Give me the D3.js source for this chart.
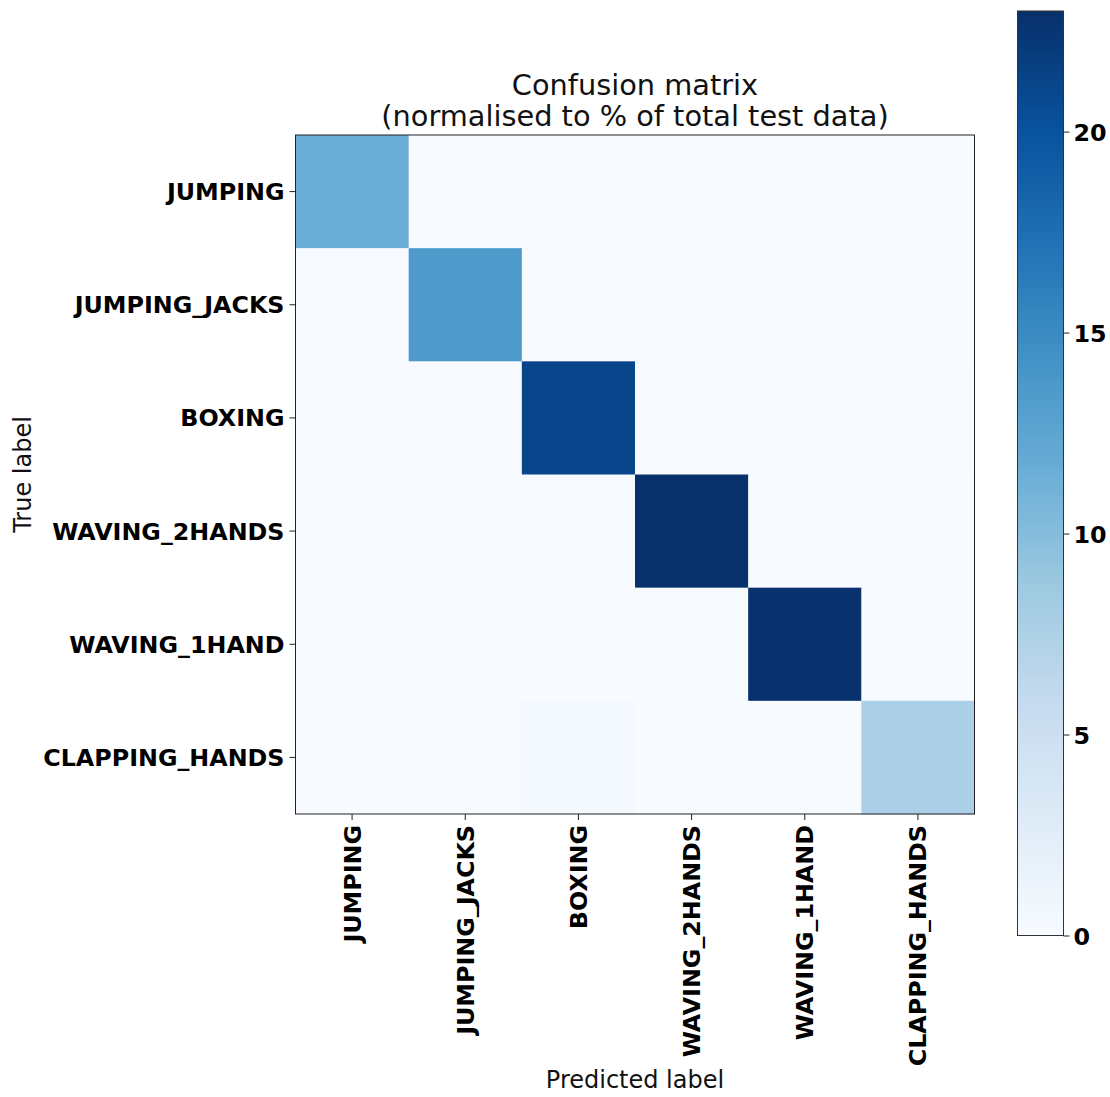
<!DOCTYPE html>
<html>
<head>
<meta charset="utf-8">
<title>Confusion matrix</title>
<script src="https://cdn.jsdelivr.net/npm/d3@7"></script>
<style>
  body { margin: 0; background: white; }
  text { font-family: "DejaVu Sans", sans-serif; }
  .tick-label { font-weight: bold; font-size: 23.8px; fill: black; }
</style>
</head>
<body>
<div id="chart"></div>
<script>
// class names, same order on both axes
var labels = ["JUMPING", "JUMPING_JACKS", "BOXING", "WAVING_2HANDS", "WAVING_1HAND", "CLAPPING_HANDS"];

// % of total test data, one row per true label
var row0 = [11.6, 0, 0, 0, 0, 0];
var row1 = [0, 13.5, 0, 0, 0, 0];
var row2 = [0, 0, 21.2, 0, 0, 0.15];
var row3 = [0, 0, 0, 23.0, 0, 0];
var row4 = [0, 0, 0, 0, 22.9, 0];
var row5 = [0, 0, 0.35, 0, 0, 7.7];
var matrix = [row0, row1, row2, row3, row4, row5];

var cbTicks = [0, 5, 10, 15, 20];

// dimensions
var W = 1110, H = 1097;
var plot = { left: 295.5, top: 135, size: 679 };
var cbar = { left: 1017.5, top: 11, width: 46, bottom: 935.5 };

window.onload = function() {

    var svg = d3.select("#chart").append("svg")
        .attr("width", W)
        .attr("height", H);

    var vmax = d3.max(matrix, function(r) { return d3.max(r); });

    // matplotlib Blues = linear ramp through the 9 colorbrewer colors
    var blues = d3.schemeBlues[9];
    var color = d3.scaleLinear()
        .domain(blues.map(function(c, i) { return i / 8 * vmax; }))
        .range(blues)
        .clamp(true);

    var x = d3.scaleBand().domain(labels).range([plot.left, plot.left + plot.size]);
    var y = d3.scaleBand().domain(labels).range([plot.top, plot.top + plot.size]);

    // cells
    var cells = [];
    matrix.forEach(function(r, i) {
        r.forEach(function(v, j) {
            cells.push({ row: labels[i], col: labels[j], value: v });
        });
    });

    svg.append("g")
        .selectAll("rect")
        .data(cells).enter().append("rect")
        .attr("x", function(d) { return x(d.col); })
        .attr("y", function(d) { return y(d.row); })
        .attr("width", x.bandwidth() + 0.5)
        .attr("height", y.bandwidth() + 0.5)
        .style("fill", function(d) { return color(d.value); });

    // frame
    svg.append("rect")
        .attr("x", plot.left)
        .attr("y", plot.top)
        .attr("width", plot.size)
        .attr("height", plot.size)
        .style("fill", "none")
        .style("stroke", "#222")
        .style("stroke-width", 1);

    // y axis
    var yAxis = svg.append("g")
        .attr("transform", "translate(" + plot.left + ",0)")
        .call(d3.axisLeft(y).tickSize(6).tickPadding(5));
    yAxis.select(".domain").remove();
    yAxis.selectAll("line").style("stroke", "#222");
    yAxis.selectAll("text")
        .attr("class", "tick-label")
        .style("font-family", "DejaVu Sans")
        .attr("dy", "0.36em");

    // x axis, rotated labels
    var xAxis = svg.append("g")
        .attr("transform", "translate(0," + (plot.top + plot.size) + ")")
        .call(d3.axisBottom(x).tickSize(6).tickPadding(5));
    xAxis.select(".domain").remove();
    xAxis.selectAll("line").style("stroke", "#222");
    xAxis.selectAll("text")
        .attr("class", "tick-label")
        .style("font-family", "DejaVu Sans")
        .attr("text-anchor", "end")
        .attr("transform", "rotate(-90)")
        .attr("x", -11)
        .attr("y", 0)
        .attr("dy", "0.36em");

    // axis titles
    svg.append("text")
        .attr("x", plot.left + plot.size / 2)
        .attr("y", 1088)
        .attr("text-anchor", "middle")
        .style("font-size", "24px")
        .style("fill", "#111")
        .text("Predicted label");

    svg.append("text")
        .attr("transform", "translate(31," + (plot.top + plot.size / 2) + ") rotate(-90)")
        .attr("text-anchor", "middle")
        .style("font-size", "24px")
        .style("fill", "#111")
        .text("True label");

    // title, two lines
    var title = svg.append("text")
        .attr("text-anchor", "middle")
        .style("font-size", "28.8px")
        .style("fill", "#111");
    title.append("tspan")
        .attr("x", plot.left + plot.size / 2)
        .attr("y", 95)
        .text("Confusion matrix");
    title.append("tspan")
        .attr("x", plot.left + plot.size / 2)
        .attr("y", 126)
        .text("(normalised to % of total test data)");

    // colorbar
    var defs = svg.append("defs");
    var grad = defs.append("linearGradient")
        .attr("id", "cb")
        .attr("x1", 0).attr("y1", 1)
        .attr("x2", 0).attr("y2", 0);
    grad.selectAll("stop")
        .data(blues).enter().append("stop")
        .attr("offset", function(d, i) { return (i / 8 * 100) + "%"; })
        .attr("stop-color", function(d) { return d; });

    var cy = d3.scaleLinear().domain([0, vmax]).range([cbar.bottom, cbar.top]);

    svg.append("rect")
        .attr("x", cbar.left)
        .attr("y", cbar.top)
        .attr("width", cbar.width)
        .attr("height", cbar.bottom - cbar.top)
        .style("fill", "url(#cb)")
        .style("stroke", "#333")
        .style("stroke-width", 1);

    var cAxis = svg.append("g")
        .attr("transform", "translate(" + (cbar.left + cbar.width) + ",0)")
        .call(d3.axisRight(cy).tickValues(cbTicks).tickSize(6).tickPadding(4));
    cAxis.select(".domain").remove();
    cAxis.selectAll("line").style("stroke", "#222");
    cAxis.selectAll("text")
        .attr("class", "tick-label")
        .style("font-family", "DejaVu Sans")
        .attr("dy", "0.36em");
};
</script>
</body>
</html>
